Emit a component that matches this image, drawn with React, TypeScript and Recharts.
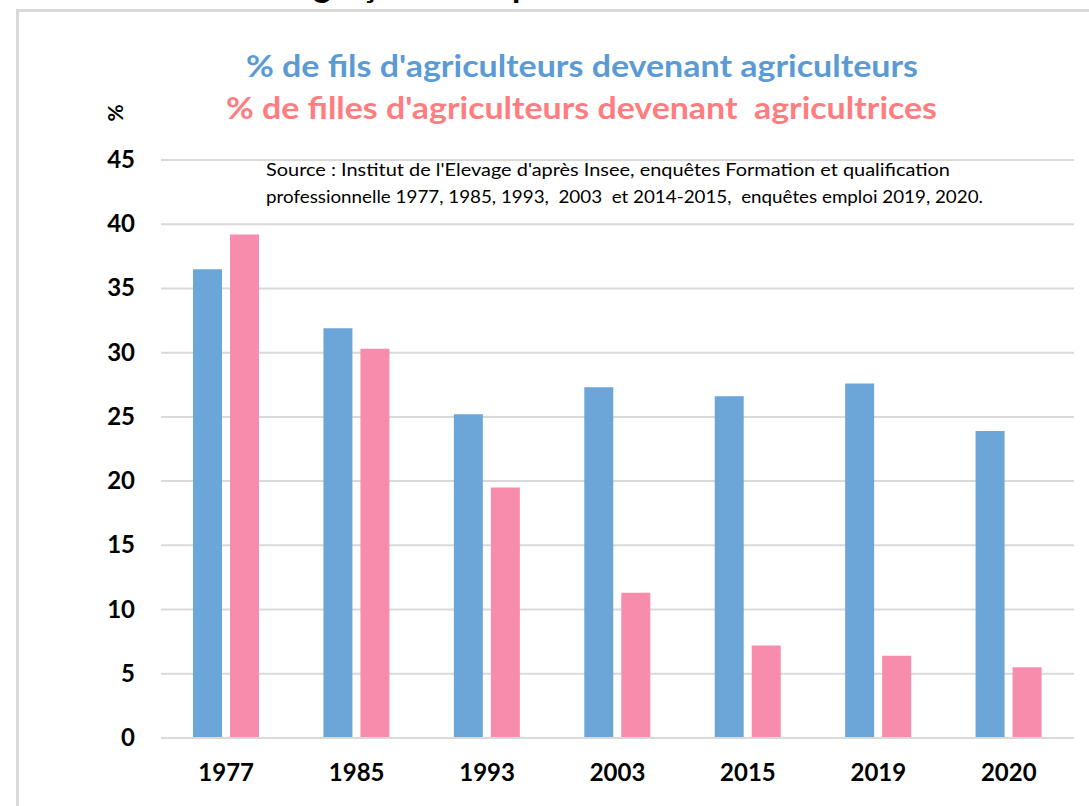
import { BarChart, Bar, XAxis, YAxis, CartesianGrid } from "recharts";

const years = ["1977", "1985", "1993", "2003", "2015", "2019", "2020"];
const fils = [36.5, 31.9, 25.2, 27.3, 26.6, 27.6, 23.9];
const filles = [39.2, 30.3, 19.5, 11.3, 7.2, 6.4, 5.5];
const yTicks = [0, 5, 10, 15, 20, 25, 30, 35, 40, 45];

const titleFils = "% de fils d'agriculteurs devenant agriculteurs";
const titleFilles = "% de filles d'agriculteurs devenant\u00a0 agricultrices";
const sourceLine1 =
  "Source : Institut de l'Elevage d'après Insee, enquêtes Formation et qualification";
const sourceLine2 =
  "professionnelle 1977, 1985, 1993,\u00a0 2003\u00a0 et 2014-2015,\u00a0 enquêtes emploi 2019, 2020.";

const data = years.map((year, i) => ({ year, fils: fils[i], filles: filles[i] }));

const FONT = "Lato, 'Open Sans', sans-serif";

function YTick({ x, y, payload }: any) {
  return (
    <text
      x={x - 18}
      y={y}
      dy={8}
      textAnchor="end"
      fontFamily={FONT}
      fontWeight={700}
      fontSize={24}
      fill="#000"
    >
      {payload.value}
    </text>
  );
}

function XTick({ x, y, payload }: any) {
  return (
    <text
      x={x}
      y={y}
      dy={35}
      textAnchor="middle"
      fontFamily={FONT}
      fontWeight={700}
      fontSize={24}
      fill="#000"
    >
      {payload.value}
    </text>
  );
}

export default function App() {
  return (
    <div
      style={{
        position: "absolute",
        left: 0,
        top: 0,
        width: 1089,
        height: 806,
        overflow: "hidden",
        background: "#fff",
      }}
    >
      <div
        style={{
          position: "absolute",
          left: 16,
          top: 9,
          width: 1100,
          height: 820,
          borderTop: "3px solid #D9D9D9",
          borderLeft: "3px solid #D9D9D9",
        }}
      />
      <div style={{ position: "absolute", left: 0, top: 0 }}>
        <BarChart
          width={1089}
          height={806}
          data={data}
          margin={{ top: 160, right: 15, bottom: 38, left: 101 }}
          barSize={29}
          barGap={8}
        >
          <CartesianGrid
            vertical={false}
            stroke="#D9D9D9"
            strokeWidth={2}
          />
          <XAxis
            dataKey="year"
            height={30}
            axisLine={{ stroke: "#D9D9D9", strokeWidth: 2 }}
            tickLine={false}
            tick={<XTick />}
            interval={0}
          />
          <YAxis
            width={60}
            domain={[0, 45]}
            ticks={yTicks}
            axisLine={false}
            tickLine={false}
            tick={<YTick />}
          />
          <Bar dataKey="fils" fill="#6CA6D9" isAnimationActive={false} />
          <Bar dataKey="filles" fill="#F78CAC" isAnimationActive={false} />
        </BarChart>
      </div>
      <svg
        width={1089}
        height={806}
        style={{ position: "absolute", left: 0, top: 0, pointerEvents: "none" }}
      >
        <text
          x={255}
          y={-3}
          fontFamily={FONT}
          fontWeight={700}
          fontSize={34}
          fill="#000"
        >
          Les garçons bien plus souvent installés
        </text>
        <text
          x={246}
          y={77}
          textLength={672}
          lengthAdjust="spacingAndGlyphs"
          fontFamily={FONT}
          fontWeight={700}
          fontSize={31}
          fill="#5B9BD5"
        >
          {titleFils}
        </text>
        <text
          x={226}
          y={119}
          textLength={711}
          lengthAdjust="spacingAndGlyphs"
          fontFamily={FONT}
          fontWeight={700}
          fontSize={31}
          fill="#FF7C80"
        >
          {titleFilles}
        </text>
        <text
          x={118}
          y={113}
          textAnchor="middle"
          dominantBaseline="middle"
          transform="rotate(-90 118 113)"
          fontFamily={FONT}
          fontWeight={700}
          fontSize={21}
          fill="#000"
        >
          %
        </text>
        <text
          x={266}
          y={176}
          textLength={684}
          lengthAdjust="spacingAndGlyphs"
          fontFamily={FONT}
          fontSize={18}
          fill="#000"
        >
          {sourceLine1}
        </text>
        <text
          x={266}
          y={203}
          textLength={717}
          lengthAdjust="spacingAndGlyphs"
          fontFamily={FONT}
          fontSize={18}
          fill="#000"
        >
          {sourceLine2}
        </text>
      </svg>
    </div>
  );
}
